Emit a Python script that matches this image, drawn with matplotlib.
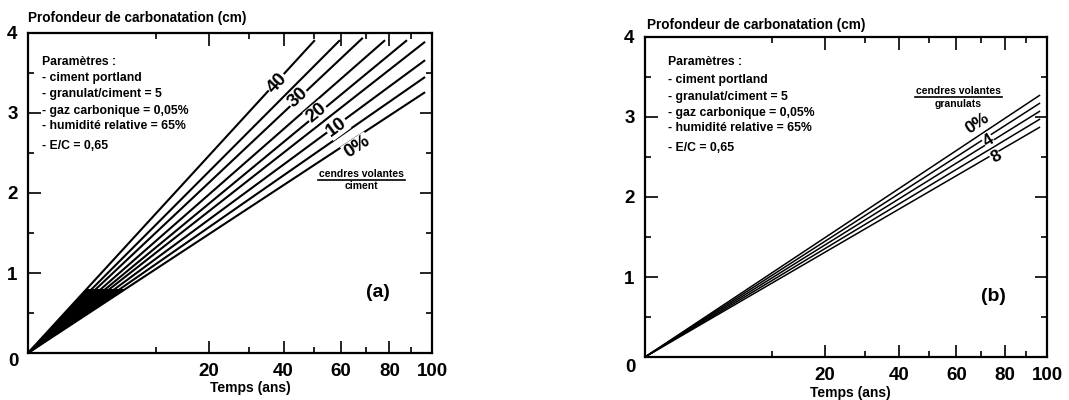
import numpy as np
import matplotlib
matplotlib.use('Agg')
import matplotlib.pyplot as plt
from matplotlib.ticker import FixedLocator, NullFormatter

plt.rcParams['font.family'] = ['Liberation Sans', 'DejaVu Sans']
plt.rcParams['font.weight'] = 'bold'

W, H = 1069, 400

# panel (a): fly ash / cement ratio (%), line end points (years, cm)
a_ratio = [0, 5, 10, 15, 20, 25, 30, 35, 40]
a_t_end = [96.6, 96.6, 96.6, 96.6, 88.0, 78.1, 68.7, 59.6, 50.4]
a_d_end = [3.26, 3.45, 3.66, 3.89, 3.91, 3.91, 3.94, 3.91, 3.91]
a_lab_text = ['0%', '10', '20', '30', '40']
a_lab_line = [0, 2, 4, 6, 8]
a_lab_t = [66.3, 58.5, 51.1, 44.6, 38.0]
a_lab_d = [2.575, 2.825, 3.0, 3.19, 3.375]
# dark wedge near the origin
a_wedge_t = [0, 2.1, 5.8]
a_wedge_d = [0, 0.8, 0.8]

# panel (b): fly ash / aggregate ratio (%)
b_ratio = [0, 2, 4, 6, 8]
b_t_end = [96.6, 96.6, 96.6, 96.6, 96.6]
b_d_end = [3.275, 3.175, 3.075, 2.975, 2.875]
b_lab_text = ['0%', '4', '8']
b_lab_line = [0, 2, 4]
b_lab_t = [68.2, 72.8, 76.2]
b_lab_d = [2.925, 2.71, 2.5]

params = ['Paramètres :', '- ciment portland', '- granulat/ciment = 5',
          '- gaz carbonique = 0,05%', '- humidité relative = 65%', '- E/C = 0,65']

x_major = [20, 40, 60, 80, 100]
x_minor = [10, 30, 50, 70, 90]
y_major = [0, 1, 2, 3, 4]
y_minor = [0.5, 1.5, 2.5, 3.5]

fig = plt.figure(figsize=(W / 100, H / 100), dpi=100)


def px_axes(x0, y0, x1, y1):
    # axes from pixel box (left, top, right, bottom)
    return fig.add_axes([x0 / W, 1 - y1 / H, (x1 - x0) / W, (y1 - y0) / H])


def ftext(x, y, s, **kw):
    fig.text(x / W, 1 - y / H, s, **kw)


def setup(ax):
    ax.set_xscale('function', functions=(np.sqrt, np.square))
    ax.set_xlim(0, 100)
    ax.set_ylim(0, 4)
    ax.xaxis.set_major_locator(FixedLocator(x_major))
    ax.xaxis.set_minor_locator(FixedLocator(x_minor))
    ax.yaxis.set_major_locator(FixedLocator(y_major))
    ax.yaxis.set_minor_locator(FixedLocator(y_minor))
    ax.set_xticklabels([str(v) for v in x_major])
    ax.set_yticklabels([''] + [str(v) for v in y_major[1:]])
    ax.xaxis.set_minor_formatter(NullFormatter())
    ax.tick_params(which='both', direction='in', top=True, right=True,
                   width=1.2, labelsize=13.5)
    ax.tick_params(which='major', length=9)
    ax.tick_params(which='minor', length=4.5)
    ax.tick_params(axis='x', pad=7.5)
    ax.tick_params(axis='y', pad=7.5)
    for s in ax.spines.values():
        s.set_linewidth(1.6)


def line_angle(ax, t_end, d_end):
    p0 = ax.transData.transform((0, 0))
    p1 = ax.transData.transform((t_end, d_end))
    return np.degrees(np.arctan2(p1[1] - p0[1], p1[0] - p0[0]))


# ---- panel (a)
ax1 = px_axes(28, 33, 432, 353)
setup(ax1)
for te, de in zip(a_t_end, a_d_end):
    ax1.plot([0, te], [0, de], color='black', lw=1.5, solid_capstyle='butt')
ax1.fill(a_wedge_t, a_wedge_d, color='black', lw=0)
for s, li, t, d in zip(a_lab_text, a_lab_line, a_lab_t, a_lab_d):
    ang = line_angle(ax1, a_t_end[li], a_d_end[li])
    ax1.text(t, d, s, rotation=ang, ha='center', va='center', fontsize=13.5,
             rotation_mode='anchor',
             bbox=dict(facecolor='white', edgecolor='none', pad=0.5))
ax1.text(0.865, 0.19, '(a)', transform=ax1.transAxes, fontsize=14,
         ha='center', va='center')

# ---- panel (b)
ax2 = px_axes(645, 37, 1047, 357)
setup(ax2)
for te, de in zip(b_t_end, b_d_end):
    ax2.plot([0, te], [0, de], color='black', lw=1.1, solid_capstyle='butt')
for s, li, t, d in zip(b_lab_text, b_lab_line, b_lab_t, b_lab_d):
    ang = line_angle(ax2, b_t_end[li], b_d_end[li])
    ax2.text(t, d, s, rotation=ang, ha='center', va='center', fontsize=12.5,
             rotation_mode='anchor',
             bbox=dict(facecolor='white', edgecolor='none', pad=0.3))
ax2.text(0.867, 0.19, '(b)', transform=ax2.transAxes, fontsize=14,
         ha='center', va='center')

# axis titles and corner zeros
ftext(28, 18, 'Profondeur de carbonatation (cm)', fontsize=9.8, va='center')
ftext(647, 25, 'Profondeur de carbonatation (cm)', fontsize=9.8, va='center')
ftext(250, 388, 'Temps (ans)', fontsize=10, ha='center', va='center')
ftext(850, 393, 'Temps (ans)', fontsize=10, ha='center', va='center')
ftext(13, 362, '0', fontsize=13.5, ha='center', va='center')
ftext(630, 368, '0', fontsize=13.5, ha='center', va='center')

# parameter boxes
a_param_y = [62, 78, 94, 111, 126, 146]
b_param_y = [62, 80, 97, 113, 128, 148]
for s, y in zip(params, a_param_y):
    ftext(42, y, s, fontsize=8.8, va='center')
for s, y in zip(params, b_param_y):
    ftext(668, y, s, fontsize=8.8, va='center')

# ratio captions
ftext(361, 174, 'cendres volantes', fontsize=7.5, ha='center', va='center')
ftext(361, 186, 'ciment', fontsize=7.5, ha='center', va='center')
fig.add_artist(plt.Line2D([318 / W, 405 / W], [1 - 180 / H, 1 - 180 / H],
                          color='black', lw=1.2))
ftext(958, 91, 'cendres volantes', fontsize=7.5, ha='center', va='center')
ftext(958, 104, 'granulats', fontsize=7.5, ha='center', va='center')
fig.add_artist(plt.Line2D([915 / W, 1002 / W], [1 - 97 / H, 1 - 97 / H],
                          color='black', lw=1.2))

fig.savefig('out.png', dpi=100)
